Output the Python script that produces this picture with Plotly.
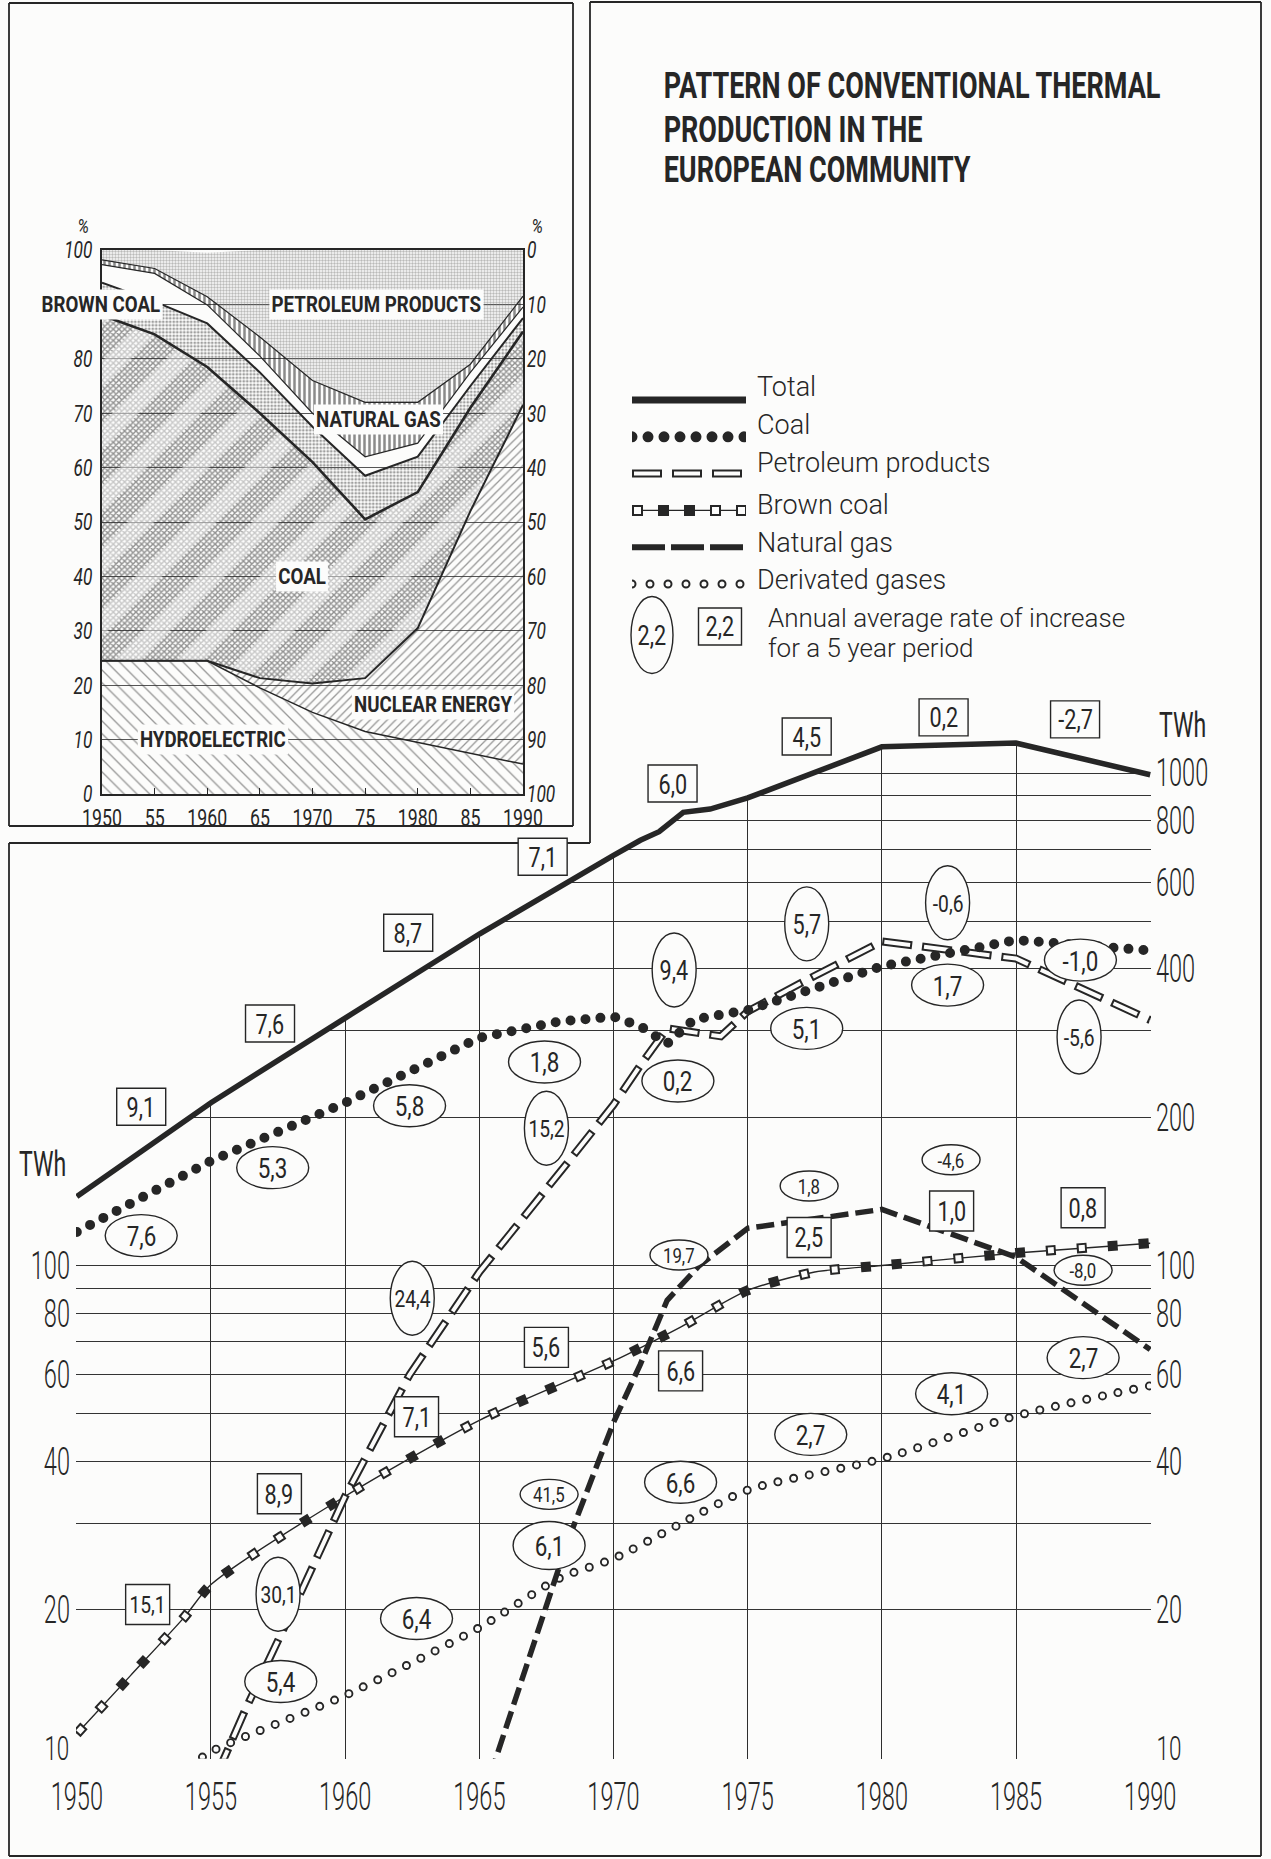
import numpy as np
import plotly.graph_objects as go

W, H = 1271, 1859
BG = "#fcfcfb"
INK = "#262626"
FONT = "Roboto, Liberation Sans, DejaVu Sans, sans-serif"


def fx(p):
    return p / W


def fy(p):
    return 1 - p / H


# ---------------- conventional thermal production, TWh ----------------
total_years = [1950, 1955, 1960, 1965, 1970, 1971, 1971.7, 1972.6, 1973.6, 1975, 1980, 1985, 1990]
total_twh = [138, 214, 318, 471, 680, 730, 760, 832, 845, 890, 1130, 1150, 992]

coal_years = [1950, 1955, 1960, 1965, 1968, 1970, 1971, 1972, 1973, 1975, 1980, 1985, 1990]
coal_twh = [117, 163, 214, 290, 313, 320, 306, 282, 316, 330, 405, 458, 436]

petroleum_years = [1955.2, 1956.3, 1958.4, 1960, 1962.4, 1965, 1968.3, 1970, 1971, 1972, 1974,
                   1975, 1977, 1980, 1985, 1990]
petroleum_twh = [9.2, 12.6, 22, 34, 60, 97, 162, 212, 255, 303, 292, 328, 375, 455, 420, 315]

brown_years = [1950, 1952, 1954, 1955, 1960, 1965, 1970, 1972.5, 1975, 1977.5, 1980, 1985, 1990]
brown_twh = [11.2, 14.7, 19.3, 22.5, 34, 48.5, 64, 75, 89, 97, 100, 106, 111]

gas_years = [1965.4, 1968.3, 1970, 1971, 1972, 1973.2, 1975, 1980, 1985, 1990]
gas_twh = [9.2, 27.6, 48, 63, 85, 100, 119, 130, 104, 67.5]

derived_years = [1954.2, 1955, 1960, 1965, 1968, 1970, 1972.4, 1975, 1980, 1985, 1990]
derived_twh = [9.6, 10.3, 13.4, 18.4, 23.2, 25.4, 29.7, 35, 40.5, 49.5, 57]

# annual average rate of increase over each 5 year period (%)
total_rates = ["9,1", "7,6", "8,7", "7,1", "6,0", "4,5", "0,2", "-2,7"]
coal_rates = ["7,6", "5,3", "5,8", "1,8", "0,2", "5,1", "1,7", "-1,0"]
petroleum_rates = ["30,1", "24,4", "15,2", "9,4", "5,7", "-0,6", "-5,6"]
brown_rates = ["15,1", "8,9", "7,1", "5,6", "6,6", "2,5", "1,0", "0,8"]
gas_rates = ["41,5", "19,7", "1,8", "-4,6", "-8,0"]
derived_rates = ["5,4", "6,4", "6,1", "6,6", "2,7", "4,1", "2,7"]

# where each rate badge sits (year, TWh)
total_rate_at = [(1952.4, 210), (1957.2, 310), (1962.35, 474), (1967.36, 676),
                 (1972.2, 952), (1977.2, 1186), (1982.3, 1297), (1987.2, 1285)]
coal_rate_at = [(1952.4, 115), (1957.3, 158), (1962.4, 211), (1967.43, 259),
                (1972.4, 237), (1977.2, 303), (1982.45, 371), (1987.4, 417)]
petroleum_rate_at = [(1957.5, 21.5), (1962.5, 85.8), (1967.5, 190), (1972.26, 398),
                     (1977.2, 494), (1982.45, 545), (1987.35, 291)]
brown_rate_at = [(1952.64, 20.5), (1957.55, 34.4), (1962.66, 49.3), (1967.5, 68.2),
                 (1972.5, 61.1), (1977.29, 114), (1982.6, 129), (1987.5, 131)]
gas_rate_at = [(1967.6, 34.3), (1972.44, 105), (1977.29, 145), (1982.58, 164), (1987.5, 97.8)]
derived_rate_at = [(1957.6, 14.3), (1962.66, 19.2), (1967.6, 27.0), (1972.5, 36.3),
                   (1977.35, 45.4), (1982.6, 54.9), (1987.5, 65.0)]

# ---------------- share of total electricity production, % ----------------
share_years = [1950, 1955, 1960, 1965, 1970, 1975, 1980, 1985, 1990]
share_hydro = [24.5, 24.5, 24.5, 19.5, 15.0, 11.5, 9.5, 7.5, 5.5]
share_nuclear = [0, 0, 0, 1.8, 5.3, 9.8, 21.0, 44.5, 66.0]
share_coal = [63.5, 60.0, 54.0, 48.7, 40.7, 29.2, 25.0, 19.0, 13.5]
share_brown = [6.0, 6.0, 8.0, 7.5, 6.5, 8.0, 6.5, 4.0, 2.5]
share_derived = [3.3, 5.2, 3.4, 3.0, 2.5, 3.5, 2.5, 2.5, 2.0]
share_gas = [0.9, 0.9, 1.5, 3.5, 6.0, 10.0, 7.5, 1.5, 2.0]
share_petroleum = [1.8, 3.4, 8.1, 16.0, 24.0, 28.0, 28.0, 21.0, 8.5]

# ---------------- geometry ----------------
XR = [1949.97, 1990.03]
Y_BOT, Y_TOP = np.log10(9.97), 3.2
Y10_PX, DECADE_PX = 1758, 492.5
main_xdom = [fx(76), fx(1151)]
main_ydom = [fy(Y10_PX - (Y_BOT - 1) * DECADE_PX), fy(Y10_PX - (Y_TOP - 1) * DECADE_PX)]

grid_vals = [m * 10 ** e for e in (1, 2) for m in range(1, 10)] + [1000]
left_labels = {20, 40, 60, 80, 100}
right_labels = [20, 40, 60, 80, 100, 200, 400, 600, 800, 1000]
share_ticks = list(range(0, 101, 10))

fig = go.Figure()


def line_trace(x, y, width, color, dash=None, uid=None, shape="linear", xa="x", ya="y", clip=True):
    return go.Scatter(x=x, y=y, mode="lines", uid=uid, xaxis=xa, yaxis=ya,
                      line=dict(width=width, color=color, dash=dash, shape=shape, smoothing=0.7),
                      hoverinfo="skip", showlegend=False, cliponaxis=clip)


def carrier(x, y, xa, ya):
    return go.Scatter(x=x, y=y, xaxis=xa, yaxis=ya, mode="lines",
                      line=dict(width=0, color="rgba(0,0,0,0)"), hoverinfo="skip", showlegend=False)


# blank out the grid above the total curve
ceiling = 10 ** Y_TOP
fig.add_trace(go.Scatter(
    x=[XR[0]] + total_years + [XR[1], XR[1], XR[0]],
    y=[total_twh[0]] + total_twh + [total_twh[-1], ceiling, ceiling],
    fill="toself", fillcolor=BG, mode="lines", line=dict(width=0),
    hoverinfo="skip", showlegend=False))

# derived gases: open circles
fig.add_trace(line_trace(derived_years, derived_twh, 9, INK, "0px,16px", "dgout", "spline"))
fig.add_trace(line_trace(derived_years, derived_twh, 5.2, BG, "0px,16px", "dgin", "spline"))
# brown coal: thin line with open / filled squares
fig.add_trace(line_trace(brown_years, brown_twh, 1.4, INK, None, None, "spline"))
fig.add_trace(line_trace(brown_years, brown_twh, 10, INK, "10px,21px", None, "spline"))
fig.add_trace(line_trace(brown_years, brown_twh, 6, BG, "0px,2px,6px,25px,6px,85px", None, "spline"))
# natural gas: heavy dashes
fig.add_trace(line_trace(gas_years, gas_twh, 5.5, INK, "18px,7px"))
# petroleum products: open dashes
fig.add_trace(line_trace(petroleum_years, petroleum_twh, 8, INK, "30px,10px"))
fig.add_trace(line_trace(petroleum_years, petroleum_twh, 4, BG, "0px,2px,26px,12px"))
# coal: round dots
fig.add_trace(line_trace(coal_years, coal_twh, 10, INK, "0px,15px", "coal"))
# total
fig.add_trace(line_trace(total_years, total_twh, 5.5, INK))
# carriers for the right-hand scale and the badge layer
fig.add_trace(carrier(total_years, total_twh, "x", "y3"))
fig.add_trace(carrier(total_years, list(np.log10(total_twh)), "x", "y6"))

# ---------------- inset: stacked shares ----------------
cum = np.cumsum([share_hydro, share_nuclear, share_coal, share_brown,
                 share_derived, share_gas, share_petroleum], axis=0)


def pat(shape, size, solidity, color):
    return dict(shape=shape, size=size, solidity=solidity, fgcolor=color, bgcolor="rgba(0,0,0,0)")


def area(y, fill, pattern=None):
    return go.Scatter(x=share_years, y=list(y), xaxis="x2", yaxis="y2", mode="lines",
                      line=dict(width=0), fill=fill, fillpattern=pattern,
                      fillcolor="rgba(0,0,0,0)" if pattern is None else None,
                      hoverinfo="skip", showlegend=False)


fig.add_trace(area(cum[0], "tozeroy", pat("\\", 9, 0.15, "#333")))
fig.add_trace(area(cum[1], "tonexty", pat("/", 6, 0.22, "#333")))
fig.add_trace(area(cum[2], "tonexty", pat("x", 4, 0.6, "#2a2a2a")))
fig.add_trace(area(cum[1], "none"))
fig.add_trace(area(cum[2], "tonexty", pat("/", 44, 0.42, BG)))
fig.add_trace(area(cum[3], "tonexty", pat(".", 3.5, 0.48, "#444")))
fig.add_trace(area(cum[4], "none"))
fig.add_trace(area(cum[5], "tonexty", pat("|", 5, 0.5, "#1a1a1a")))
fig.add_trace(area(cum[6], "tonexty", pat(".", 3, 0.5, "#777")))
for k, wdt in zip(range(6), [1.5, 2.0, 2.6, 2.0, 1.2, 1.2]):
    fig.add_trace(line_trace(share_years, list(cum[k]), wdt, INK, xa="x2", ya="y2"))
fig.add_trace(carrier(share_years, list(cum[0]), "x2", "y5"))

# ---------------- key ----------------
key = [0, 1]
kx = dict(xa="x4", ya="y4", clip=False)
fig.add_trace(line_trace(key, [0, 0], 7, INK, **kx))
fig.add_trace(line_trace(key, [1, 1], 11, INK, "0px,16px", "coalkey", **kx))
fig.add_trace(line_trace(key, [2, 2], 8, INK, "30px,10px", **kx))
fig.add_trace(line_trace(key, [2, 2], 4, BG, "0px,2px,26px,12px", **kx))
fig.add_trace(line_trace(key, [3, 3], 1.4, INK, **kx))
fig.add_trace(line_trace(key, [3, 3], 11, INK, "11px,15px", **kx))
fig.add_trace(line_trace(key, [3, 3], 7, BG, "0px,2px,7px,71px,7px,19px,7px,100px", **kx))
fig.add_trace(line_trace(key, [4, 4], 6, INK, "33px,6px", **kx))
fig.add_trace(line_trace(key, [5, 5], 9, INK, "0px,18px", "dgkeyout", **kx))
fig.add_trace(line_trace(key, [5, 5], 5, BG, "0px,18px", "dgkeyin", **kx))

shapes = []
annotations = []


def frame_line(x0, y0, x1, y1, w=1.8):
    shapes.append(dict(type="line", xref="paper", yref="paper", x0=fx(x0), y0=fy(y0),
                       x1=fx(x1), y1=fy(y1), line=dict(color=INK, width=w), layer="above"))


# page frames
frame_line(9, 3, 573, 3)
frame_line(573, 3, 573, 826)
frame_line(9, 826, 573, 826)
frame_line(9, 3, 9, 826)
frame_line(590, 2, 1261, 2)
frame_line(590, 2, 590, 843)
frame_line(9, 843, 590, 843)
frame_line(9, 843, 9, 1856)
frame_line(9, 1856, 1261, 1856)
frame_line(1261, 2, 1261, 1856)


def badge(year, val, text, kind, w, h, fs):
    lv = float(np.log10(val))
    shapes.append(dict(type="circle" if kind == "ellipse" else "rect", xref="x", yref="y6",
                       xsizemode="pixel", ysizemode="pixel", xanchor=year, yanchor=lv,
                       x0=-w / 2, x1=w / 2, y0=-h / 2, y1=h / 2,
                       line=dict(color=INK, width=1.4), fillcolor=BG, layer="above"))
    annotations.append(dict(x=year, y=lv, xref="x", yref="y6", text=text, showarrow=False,
                            xanchor="center", font=dict(family=FONT, size=fs, color=INK),
                            yshift=-1, name="s0.8"))


for (yr, v), t in zip(total_rate_at, total_rates):
    badge(yr, v, t, "box", 49, 37, 27)
for (yr, v), t in zip(coal_rate_at, coal_rates):
    badge(yr, v, t, "ellipse", 72, 42, 28)
for (yr, v), t in zip(petroleum_rate_at, petroleum_rates):
    badge(yr, v, t, "ellipse", 44, 74, 24 if len(t) > 3 else 27)
for (yr, v), t in zip(brown_rate_at, brown_rates):
    badge(yr, v, t, "box", 44, 40, 27 if len(t) < 4 else 24)
for (yr, v), t in zip(gas_rate_at, gas_rates):
    badge(yr, v, t, "ellipse", 58, 30, 21)
for (yr, v), t in zip(derived_rate_at, derived_rates):
    badge(yr, v, t, "ellipse", 72, 48 if t == "6,1" else 42, 28)


def text(xp, yp, s, size, anchor="center", bold=False, italic=False, sx=None, weight=None):
    annotations.append(dict(x=fx(xp), y=fy(yp), xref="paper", yref="paper", text=s, showarrow=False,
                            xanchor=anchor, yanchor="middle",
                            font=dict(family=FONT, size=size, color=INK,
                                      weight=weight or ("bold" if bold else "normal"),
                                      style="italic" if italic else "normal"),
                            name=("s%g" % sx) if sx else None))


# units, and the bottom "10" of both scales sitting just above the year labels
text(42, 1164, "TWh", 35, sx=0.66)
text(1182, 725, "TWh", 35, sx=0.66)
text(71, 1748, "10", 34, anchor="right", sx=0.66, weight=300)
text(1155, 1748, "10", 34, anchor="left", sx=0.66, weight=300)

# title
for yp, s in zip([85, 129, 170], ["PATTERN OF CONVENTIONAL THERMAL", "PRODUCTION IN THE", "EUROPEAN COMMUNITY"]):
    text(662, yp, s, 37, anchor="left", bold=True, sx=0.73)

# key texts
for yp, s in zip([387, 425, 463, 505, 543, 580],
                 ["Total", "Coal", "Petroleum products", "Brown coal", "Natural gas", "Derivated gases"]):
    text(755, yp, s, 27, anchor="left", weight=300)
text(766, 618, "Annual average rate of increase", 26, anchor="left", weight=300)
text(766, 648, "for a 5 year period", 26, anchor="left", weight=300)
shapes.append(dict(type="circle", xref="paper", yref="paper", x0=fx(631), x1=fx(673), y0=fy(673.5),
                   y1=fy(596.5), line=dict(color=INK, width=1.4), fillcolor=BG, layer="above"))
shapes.append(dict(type="rect", xref="paper", yref="paper", x0=fx(698.5), x1=fx(741.5), y0=fy(645),
                   y1=fy(608), line=dict(color=INK, width=1.4), fillcolor=BG, layer="above"))
text(652, 636, "2,2", 27, sx=0.8)
text(720, 627, "2,2", 27, sx=0.8)

# inset
text(83, 226, "%", 20, italic=True, sx=0.8)
text(537, 226, "%", 20, italic=True, sx=0.8)
for label, yr, pc in [("PETROLEUM PRODUCTS", 1976.1, 90), ("NATURAL GAS", 1976.3, 68.8),
                      ("COAL", 1969.0, 40), ("NUCLEAR ENERGY", 1981.45, 16.4), ("HYDROELECTRIC", 1960.5, 10)]:
    annotations.append(dict(x=yr, y=pc, xref="x2", yref="y2", text=label, showarrow=False,
                            xanchor="center", font=dict(family=FONT, size=22, color=INK, weight="bold"),
                            bgcolor=BG, borderpad=2, name="s0.85"))
annotations.append(dict(x=fx(101), y=90, xref="paper", yref="y2", text="BROWN COAL", showarrow=False,
                        xanchor="center", font=dict(family=FONT, size=22, color=INK, weight="bold"),
                        bgcolor=BG, borderpad=2, name="s0.85"))

tick_font = dict(family=FONT, size=38, color=INK, weight=300)
inset_font = dict(family=FONT, size=23, color=INK)
inset_ifont = dict(family=FONT, size=24, color=INK, style="italic")

fig.update_layout(
    width=W, height=H, margin=dict(l=0, r=0, t=0, b=0, autoexpand=False),
    paper_bgcolor=BG, plot_bgcolor=BG, showlegend=False, hovermode=False,
    xaxis=dict(domain=main_xdom, range=XR, anchor="y", tickvals=list(range(1950, 1991, 5)),
               ticktext=[str(v) for v in range(1950, 1991, 5)], showgrid=True, gridcolor="#2e2e2e",
               gridwidth=1.3, zeroline=False, showline=False, ticks="", tickfont=tick_font,
               ticklabelstandoff=12),
    yaxis=dict(domain=main_ydom, type="log", range=[Y_BOT, Y_TOP], anchor="x", tickvals=grid_vals,
               ticktext=[str(v) if v in left_labels else "" for v in grid_vals], showgrid=True,
               gridcolor="#333", gridwidth=1.0, zeroline=False, showline=False, ticks="",
               tickfont=tick_font, ticklabelstandoff=5),
    yaxis3=dict(overlaying="y", side="right", type="log", range=[Y_BOT, Y_TOP], anchor="x",
                tickvals=right_labels, ticktext=[str(v) for v in right_labels], showgrid=False,
                zeroline=False, showline=False, ticks="", tickfont=tick_font, ticklabelstandoff=4),
    yaxis6=dict(overlaying="y", range=[Y_BOT, Y_TOP], anchor="x", visible=False),
    xaxis2=dict(domain=[fx(102), fx(523)], range=[1950, 1990], anchor="y2",
                tickvals=list(range(1950, 1991, 5)),
                ticktext=["1950", "55", "1960", "65", "1970", "75", "1980", "85", "1990"],
                ticks="inside", ticklen=6, tickwidth=1.4, tickcolor=INK, showline=True, mirror=True,
                linecolor=INK, linewidth=1.6, showgrid=False, zeroline=False, tickfont=inset_font,
                ticklabelstandoff=3),
    yaxis2=dict(domain=[fy(794), fy(250)], range=[0, 100], anchor="x2", tickvals=share_ticks,
                ticktext=["" if v == 90 else str(v) for v in share_ticks],
                showline=True, mirror=True, linecolor=INK, linewidth=1.6, showgrid=True,
                gridcolor="#555", gridwidth=1, zeroline=False, ticks="", tickfont=inset_ifont,
                ticklabelstandoff=3),
    yaxis5=dict(overlaying="y2", side="right", range=[0, 100], anchor="x2",
                tickvals=share_ticks, ticktext=[str(100 - v) for v in share_ticks],
                showgrid=False, zeroline=False, showline=False, ticks="", tickfont=inset_ifont,
                ticklabelstandoff=3),
    xaxis4=dict(domain=[fx(632), fx(746)], range=[0, 1], anchor="y4", visible=False),
    yaxis4=dict(domain=[fy(602.4), fy(381.6)], range=[5.5, -0.5], anchor="x4", visible=False),
    shapes=shapes, annotations=annotations,
)

# round caps for the dotted series, and the narrow lettering of the drawing
post = r"""
var st = document.createElement('style');
st.textContent = '.tracecoal .js-line,.tracecoalkey .js-line,.tracedgout .js-line,.tracedgin .js-line,' +
                 '.tracedgkeyout .js-line,.tracedgkeyin .js-line{stroke-linecap:round}';
document.head.appendChild(st);
var gd = document.getElementById('{plot_id}');
function squeeze(el, px, s) {
  var tr = el.getAttribute('transform') || '';
  el.setAttribute('transform', tr + ' translate(' + px + ',0) scale(' + s + ',1) translate(' + (-px) + ',0)');
}
var axScale = {xtick: 0.62, ytick: 0.62, y3tick: 0.62, x2tick: 0.77, y2tick: 0.72, y5tick: 0.72};
Object.keys(axScale).forEach(function(k) {
  gd.querySelectorAll('g.' + k + ' > text').forEach(function(t) {
    squeeze(t, parseFloat(t.getAttribute('x')) || 0, axScale[k]);
  });
});
gd.querySelectorAll('g.annotation').forEach(function(a) {
  var i = +a.getAttribute('data-index');
  var ann = (gd.layout.annotations || [])[i] || {};
  var nm = ann.name || '';
  if (nm.charAt(0) !== 's') return;
  var s = parseFloat(nm.slice(1));
  var r = a.querySelector('rect.bg');
  if (!r || !s) return;
  var x = parseFloat(r.getAttribute('x')) || 0, w = parseFloat(r.getAttribute('width')) || 0;
  var px = ann.xanchor === 'left' ? x : (ann.xanchor === 'right' ? x + w : x + w / 2);
  squeeze(r.parentNode, px, s);
});
"""
fig.write_html("out.html", post_script=post)
